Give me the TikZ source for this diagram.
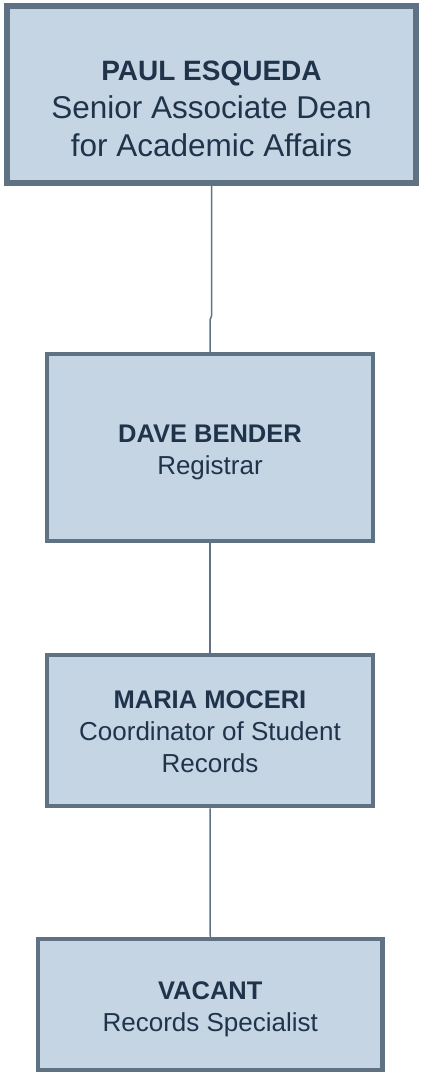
\documentclass[tikz,border=0pt]{standalone}
\usepackage{fontspec}
\setmainfont{Liberation Sans}
\usetikzlibrary{shadows}
\definecolor{boxfill}{RGB}{198,213,228}
\definecolor{boxline}{RGB}{95,114,132}
\definecolor{boxtext}{RGB}{31,52,75}

\begin{document}
\begin{tikzpicture}[x=1pt,y=-1pt,
		orgbox/.style={draw=boxline, fill=boxfill, line width=4.5pt, rectangle, anchor=center,
			drop shadow={shadow xshift=1.5pt, shadow yshift=-1.5pt, opacity=0.25, fill=black}},
		orgtext/.style={text=boxtext, align=center, anchor=base, text depth=0pt,
			inner sep=0pt, font=\fontsize{26}{32}\selectfont},
		link/.style={draw=boxline, line width=1.5pt}]
		\useasboundingbox (0,0) rectangle (424,1073);

		% boxes
		\node[orgbox, line width=6pt, minimum width=409pt, minimum height=177pt] (paul) at (211.5,94.5) {};
		\node[orgbox, minimum width=326pt, minimum height=187pt] (dave) at (210,447.5) {};
		\node[orgbox, minimum width=326pt, minimum height=151pt] (maria) at (210,730.5) {};
		\node[orgbox, minimum width=344.5pt, minimum height=131pt] (vacant) at (210.25,1004.5) {};

		% names and titles (placed on the last baseline)
		\node[orgtext, font=\fontsize{31.5}{38}\selectfont] (paulTxt) at (211.5,156)
			{{\bfseries\fontsize{28}{38}\selectfont PAUL ESQUEDA}\\Senior Associate Dean\\for Academic Affairs};
		\node[orgtext] (daveTxt) at (210,474) {{\bfseries\fontsize{25.5}{32}\selectfont DAVE BENDER}\\Registrar};
		\node[orgtext] (mariaTxt) at (210,772)
			{{\bfseries\fontsize{25.5}{32}\selectfont MARIA MOCERI}\\Coordinator of Student\\Records};
		\node[orgtext] (vacantTxt) at (210.25,1031) {{\bfseries\fontsize{25.5}{32}\selectfont VACANT}\\Records Specialist};

		% reporting lines
		\coordinate (jogA) at (211.5,316);
		\coordinate (jogB) at (210,320);
		\draw[link] (paul.south) -- (jogA) -- (jogB) -- (dave.north);
		\draw[link] (dave.south) -- (maria.north);
		\draw[link] (maria.south) -- (vacant.north);
\end{tikzpicture}
\end{document}
